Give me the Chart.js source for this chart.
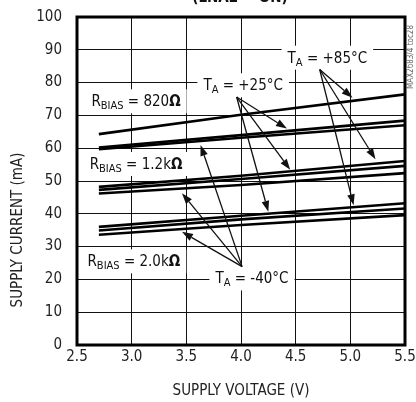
<!DOCTYPE html>
<html>
<head>
<meta charset="utf-8">
<script src="https://cdn.jsdelivr.net/npm/chart.js@4"></script>
<style>
  body { margin: 0; background: #fff; }
  canvas { display: block; }
</style>
</head>
<body>
<canvas id="chart1" width="416" height="402"></canvas>
<script>
// supply voltage points (V) where each curve was read
const voltage = [2.7, 4.0, 5.5]

// supply current (mA), RBIAS = 820 ohm
const r820_85 = [64.3, 70.2, 76.4]
const r820_25 = [60.2, 64.0, 68.4]
const r820_m40 = [59.7, 63.2, 67.0]
// RBIAS = 1.2k
const r1k2_85 = [48.2, 51.6, 56.1]
const r1k2_25 = [47.3, 50.6, 54.6]
const r1k2_m40 = [46.2, 48.8, 52.4]
// RBIAS = 2.0k
const r2k0_85 = [36.0, 39.4, 43.2]
const r2k0_25 = [34.9, 38.3, 41.6]
const r2k0_m40 = [33.6, 36.6, 39.6]

const xTicks = [2.5, 3.0, 3.5, 4.0, 4.5, 5.0, 5.5]
const yTicks = [0, 10, 20, 30, 40, 50, 60, 70, 80, 90, 100]

// callout texts: [text, style] parts, s = subscript, b = bold
const tempLabels = [
  [['T', 'n'], ['A', 's'], [' = +85°C', 'n']],
  [['T', 'n'], ['A', 's'], [' = +25°C', 'n']],
  [['T', 'n'], ['A', 's'], [' = -40°C', 'n']]
]
const tempLabelAt = [[4.79, 87.6], [4.02, 79.2], [4.10, 20.3]]
const biasLabels = [
  [['R', 'n'], ['BIAS', 's'], [' = 820', 'n'], ['Ω', 'b']],
  [['R', 'n'], ['BIAS', 's'], [' = 1.2k', 'n'], ['Ω', 'b']],
  [['R', 'n'], ['BIAS', 's'], [' = 2.0k', 'n'], ['Ω', 'b']]
]
const biasLabelAt = [[3.04, 74.3], [3.04, 55.2], [3.02, 25.5]]

// arrows: start (at label) and tips, in data units
const arrowFrom = [[4.72, 84.0], [3.96, 75.6], [4.01, 23.9]]
const arrowTips = [
  [[5.02, 75.4], [5.23, 56.6], [5.03, 42.6]],
  [[4.42, 66.0], [4.45, 53.4], [4.25, 40.6]],
  [[3.63, 61.0], [3.46, 46.3], [3.46, 34.5]]
]

const FONT = "'Liberation Sans Narrow', 'DejaVu Sans Condensed', 'Arial Narrow', sans-serif"

function pts(vals) {
  return vals.map((v, i) => ({ x: voltage[i], y: v }))
}

const series = [r820_85, r820_25, r820_m40, r1k2_85, r1k2_25, r1k2_m40, r2k0_85, r2k0_25, r2k0_m40]

function fontFor(style) {
  if (style == 's') return `11px ${FONT}`
  if (style == 'b') return `bold 15px ${FONT}`
  return `15px ${FONT}`
}
function richWidth(ctx, parts) {
  let w = 0
  parts.forEach(p => {
    ctx.font = fontFor(p[1])
    w += ctx.measureText(p[0]).width
  })
  return w
}
function drawRich(ctx, parts, cx, cy) {
  const w = richWidth(ctx, parts)
  // white box hides grid under the label
  ctx.fillStyle = '#fff'
  ctx.fillRect(cx - w / 2 - 6, cy - 12, w + 12, 24)
  let x = cx - w / 2
  ctx.fillStyle = '#111'
  ctx.textBaseline = 'alphabetic'
  ctx.textAlign = 'left'
  parts.forEach(p => {
    ctx.font = fontFor(p[1])
    ctx.fillText(p[0], x, cy + 5 + (p[1] == 's' ? 3 : 0))
    x += ctx.measureText(p[0]).width
  })
}

const labelsPlugin = {
  id: 'labels',
  beforeDatasetsDraw(chart) {
    const ctx = chart.ctx, xs = chart.scales.x, ys = chart.scales.y
    ctx.save()
    tempLabels.forEach((l, i) => drawRich(ctx, l, xs.getPixelForValue(tempLabelAt[i][0]), ys.getPixelForValue(tempLabelAt[i][1])))
    biasLabels.forEach((l, i) => drawRich(ctx, l, xs.getPixelForValue(biasLabelAt[i][0]), ys.getPixelForValue(biasLabelAt[i][1])))
    ctx.restore()
  },
  afterDatasetsDraw(chart) {
    const ctx = chart.ctx, xs = chart.scales.x, ys = chart.scales.y
    ctx.save()
    ctx.strokeStyle = '#111'
    ctx.fillStyle = '#111'
    ctx.lineWidth = 1.3
    arrowTips.forEach((tips, g) => {
      const x0 = xs.getPixelForValue(arrowFrom[g][0]), y0 = ys.getPixelForValue(arrowFrom[g][1])
      tips.forEach(t => {
        const x1 = xs.getPixelForValue(t[0]), y1 = ys.getPixelForValue(t[1])
        const a = Math.atan2(y1 - y0, x1 - x0)
        const len = 11, hw = 3.8
        const bx = x1 - Math.cos(a) * len, by = y1 - Math.sin(a) * len
        ctx.beginPath()
        ctx.moveTo(x0, y0)
        ctx.lineTo(bx, by)
        ctx.stroke()
        ctx.beginPath()
        ctx.moveTo(x1, y1)
        ctx.lineTo(bx + Math.sin(a) * hw, by - Math.cos(a) * hw)
        ctx.lineTo(bx - Math.sin(a) * hw, by + Math.cos(a) * hw)
        ctx.closePath()
        ctx.fill()
      })
    })
    ctx.restore()
  },
  afterDraw(chart) {
    const ctx = chart.ctx, a = chart.chartArea
    ctx.save()
    ctx.strokeStyle = '#000'
    ctx.lineWidth = 3
    ctx.strokeRect(a.left, a.top, a.right - a.left, a.bottom - a.top)
    // y axis title
    ctx.fillStyle = '#222'
    ctx.font = `15px ${FONT}`
    ctx.textAlign = 'center'
    ctx.textBaseline = 'middle'
    ctx.translate(18, 230)
    ctx.rotate(-Math.PI / 2)
    ctx.fillText('SUPPLY CURRENT (mA)', 0, 0)
    ctx.restore()
    // cut-off title and figure tag
    ctx.save()
    ctx.fillStyle = '#111'
    ctx.font = `bold 15px ${FONT}`
    ctx.textAlign = 'center'
    ctx.textBaseline = 'alphabetic'
    ctx.fillText('(LNA2 = ON)', 240, 2)
    ctx.fillStyle = '#666'
    ctx.font = `8px ${FONT}`
    ctx.translate(411, 57)
    ctx.rotate(-Math.PI / 2)
    ctx.textBaseline = 'middle'
    ctx.fillText('MAX2683/4 toc28', 0, 0)
    ctx.restore()
  }
}

function fixY(s) {
  s.width = 77
  s.paddingTop = 0
  s.paddingBottom = 0
}
function fixX(s) {
  s.height = 57
  s.paddingLeft = 0
  s.paddingRight = 0
}

const config = {
  type: 'scatter',
  data: {
    datasets: series.map(s => ({
      data: pts(s),
      showLine: true,
      borderColor: '#000',
      borderWidth: 2.6,
      pointRadius: 0,
      tension: 0
    }))
  },
  options: {
    responsive: false,
    animation: false,
    devicePixelRatio: 1,
    layout: { padding: { left: 0, right: 11, top: 17, bottom: 0 } },
    plugins: { legend: { display: false }, tooltip: { enabled: false } },
    scales: {
      x: {
        type: 'linear', min: 2.5, max: 5.5,
        afterFit: fixX,
        afterBuildTicks: s => { s.ticks = xTicks.map(v => ({ value: v })) },
        grid: { color: '#111', lineWidth: 1, drawTicks: false },
        border: { display: false },
        ticks: { color: '#222', padding: 3, font: { family: FONT, size: 15 }, callback: v => v.toFixed(1), maxRotation: 0 },
        title: { display: true, text: 'SUPPLY VOLTAGE (V)', color: '#222', font: { family: FONT, size: 15 }, padding: { top: 0, bottom: 2 } }
      },
      y: {
        type: 'linear', min: 0, max: 100,
        afterFit: fixY,
        afterBuildTicks: s => { s.ticks = yTicks.map(v => ({ value: v })) },
        grid: { color: '#111', lineWidth: 1, drawTicks: false },
        border: { display: false },
        ticks: { color: '#222', padding: 15, font: { family: FONT, size: 15 } }
      }
    }
  },
  plugins: [labelsPlugin]
}

const myChart = new Chart(document.getElementById('chart1').getContext('2d'), config)
</script>
</body>
</html>
